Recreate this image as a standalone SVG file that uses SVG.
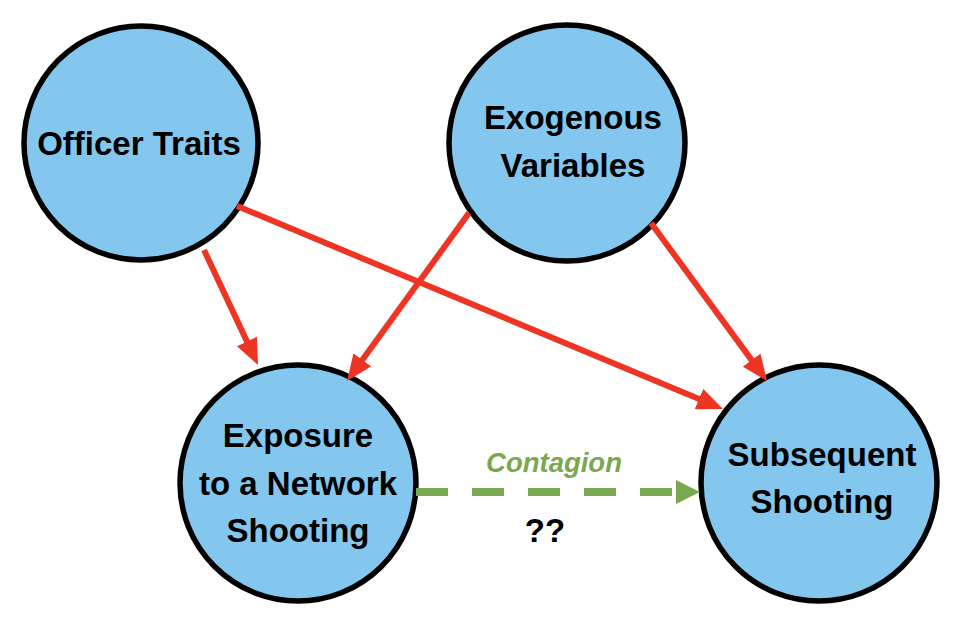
<svg xmlns="http://www.w3.org/2000/svg" width="962" height="624" viewBox="0 0 962 624">
<style>
.node{fill:#83C6EE;stroke:#000;stroke-width:5.5}
.lbl{font-family:"Liberation Sans",Arial,sans-serif;font-weight:bold;font-size:33px;fill:#000;text-anchor:middle}
.red{stroke:#EE3524;stroke-width:6;fill:none;marker-end:url(#rh)}
.green{stroke:#7AA851;stroke-width:8;stroke-dasharray:32 24;fill:none}
</style>
<defs>
<marker id="rh" markerUnits="userSpaceOnUse" markerWidth="26" markerHeight="22" refX="6" refY="11" orient="auto">
<path d="M0,0 L26,11 L0,22 z" fill="#EE3524"/>
</marker>
</defs>
<rect width="962" height="624" fill="#fff"/>
<g id="officer">
<circle class="node" cx="141" cy="143" r="117"/>
<text class="lbl" x="139" y="155">Officer Traits</text>
</g>
<g id="exogenous">
<circle class="node" cx="567" cy="143" r="118"/>
<text class="lbl" x="573" y="129">Exogenous</text>
<text class="lbl" x="573" y="177">Variables</text>
</g>
<g id="exposure">
<circle class="node" cx="298" cy="483" r="118"/>
<text class="lbl" x="298" y="447">Exposure</text>
<text class="lbl" x="298" y="495">to a Network</text>
<text class="lbl" x="298" y="542">Shooting</text>
</g>
<g id="subsequent">
<circle class="node" cx="819" cy="483" r="118"/>
<text class="lbl" x="822" y="466">Subsequent</text>
<text class="lbl" x="822" y="513">Shooting</text>
</g>
<g id="connectors">
<line class="red" x1="204" y1="250" x2="249.5" y2="346.9"/>
<line class="red" x1="237" y1="206" x2="704.5" y2="401.3"/>
<line class="red" x1="469" y1="213" x2="358.8" y2="364.8"/>
<line class="red" x1="651" y1="223" x2="755.2" y2="364.9"/>
<line class="green" x1="416" y1="492" x2="672" y2="492"/>
<polygon points="676,480 700,492 676,504" fill="#7AA851"/>
<text x="554" y="472" text-anchor="middle" font-family="'Liberation Sans',Arial,sans-serif" font-weight="bold" font-style="italic" font-size="27.5" fill="#7AA851">Contagion</text>
<text x="545" y="542" text-anchor="middle" font-family="'Liberation Sans',Arial,sans-serif" font-weight="bold" font-size="33" fill="#000">??</text>
</g>
</svg>
